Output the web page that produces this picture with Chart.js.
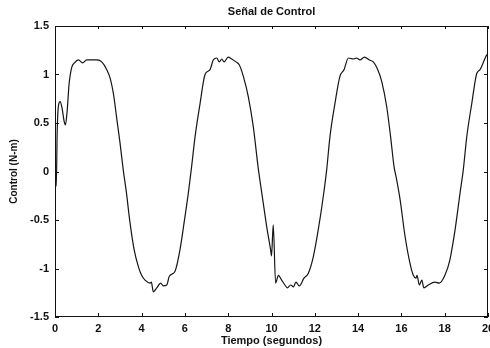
<!DOCTYPE html>
<html>
<head>
<meta charset="utf-8">
<script src="https://cdn.jsdelivr.net/npm/chart.js@4/dist/chart.umd.min.js"></script>
<style>
  html, body { margin: 0; padding: 0; background: #fff; }
  #wrap { width: 490px; height: 348px; }
</style>
</head>
<body>
<div id="wrap"><canvas id="chart"></canvas></div>
<script>
// tiempo (s) y señal de control (N-m)
const tiempo = [0, 0.06, 0.1, 0.16, 0.24, 0.32, 0.42, 0.48, 0.56, 0.65, 0.77, 0.9, 1.08, 1.28, 1.46, 1.7, 1.95, 2.16, 2.39, 2.55, 2.7, 2.85, 3.0, 3.15, 3.3, 3.46, 3.65, 3.85, 4.0, 4.16, 4.39, 4.45, 4.54, 4.7, 4.88, 5.0, 5.16, 5.28, 5.54, 5.77, 6.0, 6.16, 6.31, 6.47, 6.7, 6.93, 7.16, 7.31, 7.47, 7.59, 7.7, 7.81, 8.0, 8.16, 8.36, 8.51, 8.7, 8.93, 9.16, 9.39, 9.55, 9.78, 9.96, 10.0, 10.08, 10.19, 10.32, 10.47, 10.62, 10.73, 10.89, 11.01, 11.13, 11.28, 11.5, 11.7, 11.93, 12.16, 12.39, 12.55, 12.7, 12.93, 13.16, 13.35, 13.55, 13.78, 13.93, 14.09, 14.29, 14.52, 14.7, 14.89, 15.09, 15.32, 15.5, 15.66, 15.75, 15.94, 16.17, 16.4, 16.55, 16.67, 16.72, 16.83, 16.94, 17.04, 17.24, 17.55, 17.75, 18.01, 18.24, 18.48, 18.71, 18.86, 19.02, 19.25, 19.48, 19.63, 19.94, 20];
const control = [-0.12, -0.15, 0.4, 0.68, 0.72, 0.66, 0.52, 0.48, 0.62, 0.9, 1.07, 1.12, 1.15, 1.12, 1.15, 1.15, 1.15, 1.13, 1.05, 0.96, 0.8, 0.55, 0.3, 0.02, -0.22, -0.52, -0.8, -0.98, -1.07, -1.12, -1.15, -1.14, -1.24, -1.2, -1.15, -1.18, -1.17, -1.08, -1.03, -0.81, -0.47, -0.22, 0.05, 0.36, 0.7, 1.0, 1.05, 1.15, 1.17, 1.13, 1.16, 1.13, 1.18, 1.16, 1.13, 1.1, 0.98, 0.77, 0.46, 0.03, -0.22, -0.57, -0.81, -0.87, -0.55, -1.15, -1.07, -1.12, -1.17, -1.2, -1.17, -1.19, -1.14, -1.18, -1.1, -1.05, -0.88, -0.6, -0.26, 0.02, 0.36, 0.7, 0.98, 1.05, 1.17, 1.16, 1.17, 1.15, 1.18, 1.15, 1.13, 1.06, 0.93, 0.67, 0.36, 0.05, -0.05, -0.29, -0.67, -0.95, -1.07, -1.1, -1.07, -1.17, -1.12, -1.2, -1.17, -1.14, -1.15, -1.07, -0.91, -0.6, -0.22, 0.02, 0.36, 0.7, 1.01, 1.05, 1.2, 1.21];
const ticksX = [0, 2, 4, 6, 8, 10, 12, 14, 16, 18, 20];
const ticksY = [-1.5, -1, -0.5, 0, 0.5, 1, 1.5];

const fuente = "'Liberation Sans', Arial, sans-serif";

let puntos = tiempo.map((t, i) => ({ x: t, y: control[i] }));

// marco y marcas hacia dentro, como en la figura original
const marcoPlugin = {
    id: 'marco',
    afterDraw(chart) {
        const ctx = chart.ctx;
        const area = chart.chartArea;
        const sx = chart.scales.x;
        const sy = chart.scales.y;
        ctx.save();
        ctx.strokeStyle = '#111';
        ctx.lineWidth = 1;
        ctx.strokeRect(area.left + 0.5, area.top + 0.5, area.right - area.left - 1, area.bottom - area.top - 1);
        ctx.beginPath();
        for (let v of ticksX) {
            let px = Math.round(sx.getPixelForValue(v)) + 0.5;
            ctx.moveTo(px, area.bottom);
            ctx.lineTo(px, area.bottom - 4);
            ctx.moveTo(px, area.top);
            ctx.lineTo(px, area.top + 3);
        }
        for (let v of ticksY) {
            let py = Math.round(sy.getPixelForValue(v)) + 0.5;
            ctx.moveTo(area.left, py);
            ctx.lineTo(area.left + 4, py);
            ctx.moveTo(area.right, py);
            ctx.lineTo(area.right - 4, py);
        }
        ctx.stroke();
        // titulo centrado sobre el area del grafico
        ctx.fillStyle = '#111';
        ctx.font = 'bold 11px ' + fuente;
        ctx.textAlign = 'center';
        ctx.textBaseline = 'middle';
        ctx.fillText('Señal de Control', (area.left + area.right) / 2, 12);
        ctx.restore();
    }
};

new Chart(document.getElementById('chart'), {
    type: 'line',
    data: {
        datasets: [{
            label: 'Control',
            data: puntos,
            borderColor: '#151515',
            borderWidth: 1.2,
            pointRadius: 0,
            cubicInterpolationMode: 'monotone',
            fill: false
        }]
    },
    options: {
        responsive: true,
        maintainAspectRatio: false,
        animation: false,
        layout: { padding: { top: 26, right: 2, left: 0, bottom: 0 } },
        plugins: {
            legend: { display: false },
            tooltip: { enabled: false }
        },
        scales: {
            x: {
                type: 'linear',
                min: 0,
                max: 20,
                afterBuildTicks: (scale) => { scale.ticks = ticksX.map(v => ({ value: v })); },
                afterFit: (scale) => { scale.height = 31; scale.paddingRight = 0; scale.paddingLeft = 0; },
                grid: { display: false, drawTicks: false },
                border: { display: false },
                ticks: { color: '#111', padding: 5, maxRotation: 0, font: { family: fuente, size: 11, weight: 'bold' } },
                title: {
                    display: true,
                    text: 'Tiempo (segundos)',
                    color: '#111',
                    padding: { top: 0, bottom: 0 },
                    font: { family: fuente, size: 11, weight: 'bold' }
                }
            },
            y: {
                min: -1.5,
                max: 1.5,
                afterBuildTicks: (scale) => { scale.ticks = ticksY.map(v => ({ value: v })); },
                afterFit: (scale) => { scale.width = 55; scale.paddingTop = 0; scale.paddingBottom = 0; },
                grid: { display: false, drawTicks: false },
                border: { display: false },
                ticks: {
                    color: '#111',
                    padding: 6,
                    callback: (v) => String(v),
                    font: { family: fuente, size: 11, weight: 'bold' }
                },
                title: {
                    display: true,
                    text: 'Control (N-m)',
                    color: '#111',
                    padding: { top: 8, bottom: 0 },
                    font: { family: fuente, size: 10, weight: 'bold' }
                }
            }
        }
    },
    plugins: [marcoPlugin]
});
</script>
</body>
</html>
